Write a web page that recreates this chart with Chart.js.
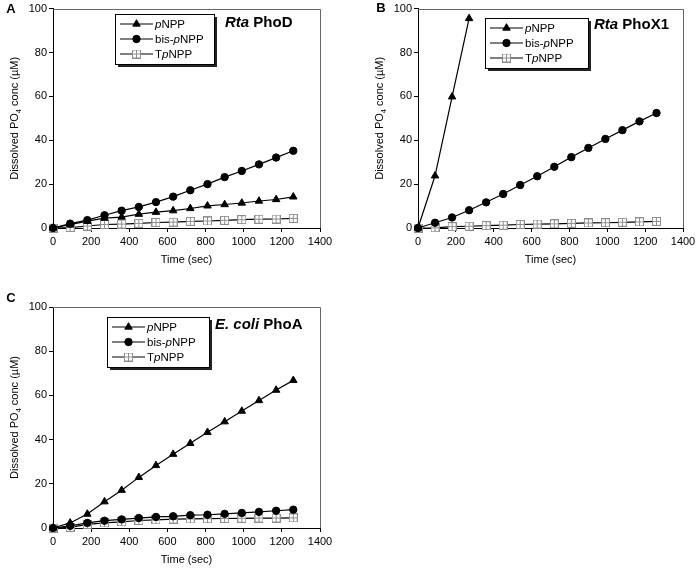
<!DOCTYPE html>
<html>
<head>
<meta charset="utf-8">
<script src="https://cdn.jsdelivr.net/npm/chart.js@4/dist/chart.umd.min.js"></script>
<style>
  html, body { margin: 0; padding: 0; background: #fff; }
  #wrap { position: relative; width: 700px; height: 572px; overflow: hidden; }
  #wrap canvas { position: absolute; }
</style>
</head>
<body>
<div id="wrap">
  <canvas id="panel-a" width="350" height="272" style="left:0;top:0"></canvas>
  <canvas id="panel-b" width="350" height="272" style="left:350px;top:0"></canvas>
  <canvas id="panel-c" width="350" height="282" style="left:0;top:290px"></canvas>
</div>
<script>
  /* Data */
  const TIME_SEC = [0, 90, 180, 270, 360, 450, 540, 630, 720, 810, 900, 990, 1080, 1170, 1260];
  const X_TICKS = [0, 200, 400, 600, 800, 1000, 1200, 1400];
  const Y_TICKS = [0, 20, 40, 60, 80, 100];

  // A: Rta PhoD
  const A_PNPP = [0, 1.5, 3.1, 4.5, 5.0, 6.3, 7.2, 7.9, 8.9, 10.1, 10.7, 11.4, 12.3, 13.0, 14.2];
  const A_BIS = [0, 2.0, 3.6, 5.8, 7.9, 9.6, 11.8, 14.3, 17.2, 20.0, 23.2, 26.0, 29.0, 32.1, 35.2];
  const A_TPNPP = [0, 0.2, 0.9, 1.6, 1.8, 2.1, 2.5, 2.7, 3.0, 3.2, 3.5, 3.8, 4.0, 4.1, 4.4];

  // B: Rta PhoX1 (pNPP only measured for the first four times)
  const B_PNPP_TIME = [0, 90, 180, 270];
  const B_PNPP = [0, 23.8, 59.8, 95.5];
  const B_BIS = [0, 2.4, 4.8, 8.1, 11.7, 15.5, 19.6, 23.6, 27.9, 32.3, 36.5, 40.6, 44.6, 48.6, 52.4];
  const B_TPNPP = [0, 0.1, 0.6, 0.8, 1.1, 1.3, 1.6, 1.8, 1.9, 2.1, 2.3, 2.4, 2.6, 2.8, 3.0];

  // C: E. coli PhoA
  const C_PNPP = [0, 2.3, 6.3, 11.9, 17.1, 22.9, 28.3, 33.4, 38.3, 43.3, 48.1, 52.9, 57.7, 62.4, 66.8];
  const C_BIS = [0, 1.0, 2.3, 3.3, 3.9, 4.5, 5.0, 5.3, 5.8, 6.0, 6.4, 6.8, 7.3, 7.8, 8.3];
  const C_TPNPP = [0, 0.3, 1.6, 2.3, 2.8, 3.4, 3.7, 4.0, 4.1, 4.2, 4.3, 4.4, 4.5, 4.5, 4.6];

  const FONT = '"Liberation Sans", Arial, Helvetica, sans-serif';

  /* grey square with a cross, like the TpNPP marker */
  function squareMarker() {
    const c = document.createElement('canvas');
    c.width = 9; c.height = 9;
    const g = c.getContext('2d');
    g.fillStyle = '#fff';
    g.fillRect(0, 0, 9, 9);
    g.strokeStyle = '#8e8e8e';
    g.lineWidth = 1;
    g.strokeRect(0.5, 0.5, 8, 8);
    g.beginPath();
    g.moveTo(4.5, 1); g.lineTo(4.5, 8);
    g.moveTo(1, 4.5); g.lineTo(8, 4.5);
    g.stroke();
    return c;
  }
  const SQUARE = squareMarker();

  const SERIES_STYLE = [
    { name: [['p', 'italic'], ['NPP', '']], pointStyle: 'triangle', radius: 4.3 },
    { name: [['bis-', ''], ['p', 'italic'], ['NPP', '']], pointStyle: 'circle', radius: 3.7 },
    { name: [['T', ''], ['p', 'italic'], ['NPP', '']], pointStyle: SQUARE, radius: 4 }
  ];

  function points(xs, ys) {
    return ys.map(function (y, i) { return { x: xs[i], y: y }; });
  }

  function drawRuns(ctx, runs, x, y, size, weight) {
    runs.forEach(function (r) {
      ctx.font = r[1] + ' ' + weight + ' ' + size + 'px ' + FONT;
      ctx.fillText(r[0], x, y);
      x += ctx.measureText(r[0]).width;
    });
    return x;
  }

  /* frame, axis titles, legend box, panel title and letter */
  const decor = {
    id: 'decor',
    afterDraw: function (chart, args, opts) {
      const ctx = chart.ctx;
      const a = chart.chartArea;
      ctx.save();
      ctx.fillStyle = '#000';
      ctx.textBaseline = 'middle';

      // top and right edges of the box
      ctx.strokeStyle = '#666';
      ctx.lineWidth = 1;
      ctx.beginPath();
      ctx.moveTo(Math.round(a.left), Math.round(a.top) + 0.5);
      ctx.lineTo(Math.round(a.right) + 0.5, Math.round(a.top) + 0.5);
      ctx.lineTo(Math.round(a.right) + 0.5, Math.round(a.bottom));
      ctx.stroke();

      // x title
      ctx.textAlign = 'center';
      ctx.font = '11px ' + FONT;
      ctx.fillText('Time (sec)', (a.left + a.right) / 2, a.bottom + 32);

      // y title with subscript
      ctx.save();
      ctx.translate(a.left - 38, (a.top + a.bottom) / 2);
      ctx.rotate(-Math.PI / 2);
      ctx.textAlign = 'left';
      ctx.font = '11px ' + FONT;
      const p1 = 'Dissolved PO', p2 = ' conc (\u00b5M)';
      const w1 = ctx.measureText(p1).width, w3 = ctx.measureText(p2).width;
      ctx.font = '7.5px ' + FONT;
      const w2 = ctx.measureText('4').width;
      const tx = -(w1 + w2 + w3) / 2;
      ctx.font = '11px ' + FONT;
      ctx.fillText(p1, tx, 0);
      ctx.font = '7.5px ' + FONT;
      ctx.fillText('4', tx + w1, 4);
      ctx.font = '11px ' + FONT;
      ctx.fillText(p2, tx + w1 + w2, 0);
      ctx.restore();

      // panel letter
      ctx.textAlign = 'center';
      ctx.font = 'bold 13px ' + FONT;
      ctx.fillText(opts.letter, opts.letterX, opts.letterY);

      // panel title
      ctx.textAlign = 'left';
      drawRuns(ctx, opts.title, opts.titleX, opts.titleY, 15, 'bold');

      // legend box with drop shadow
      const L = opts.legend;
      ctx.fillStyle = '#222';
      ctx.fillRect(L.x + 3, L.y + 3, L.w, L.h);
      ctx.fillStyle = '#fff';
      ctx.fillRect(L.x, L.y, L.w, L.h);
      ctx.strokeStyle = '#000';
      ctx.lineWidth = 1;
      ctx.strokeRect(L.x + 0.5, L.y + 0.5, L.w, L.h);
      const cy = L.y + L.h / 2;
      chart.data.datasets.forEach(function (ds, i) {
        const y = cy + (i - 1) * 15;
        ctx.strokeStyle = '#000';
        ctx.lineWidth = 1.2;
        ctx.beginPath();
        ctx.moveTo(L.x + 5, y);
        ctx.lineTo(L.x + 38, y);
        ctx.stroke();
        ctx.fillStyle = '#000';
        ctx.lineWidth = 1;
        Chart.helpers.drawPoint(ctx, {
          pointStyle: ds.pointStyle, radius: ds.pointRadius, rotation: 0, borderWidth: 1
        }, L.x + 21.5, y);
        ctx.fillStyle = '#000';
        drawRuns(ctx, SERIES_STYLE[i].name, L.x + 40, y + 0.5, 11.5, '');
      });
      ctx.restore();
    }
  };

  function makePanel(id, cfg) {
    const canvas = document.getElementById(id);
    const datasets = cfg.series.map(function (s, i) {
      const st = SERIES_STYLE[i];
      return {
        label: st.name.map(function (r) { return r[0]; }).join(''),
        data: s,
        borderColor: '#000',
        borderWidth: 1.2,
        backgroundColor: '#000',
        pointStyle: st.pointStyle,
        pointRadius: st.radius,
        pointBorderColor: '#000',
        pointBackgroundColor: '#000',
        pointBorderWidth: 1,
        tension: 0,
        clip: false
      };
    });
    // draw squares first so black marks sit on top
    datasets[2].order = 3; datasets[0].order = 2; datasets[1].order = 1;

    const tickFont = { family: FONT, size: 11 };
    const plain = function (v) { return String(v); };

    new Chart(canvas, {
      type: 'line',
      data: { datasets: datasets },
      options: {
        responsive: false,
        animation: false,
        layout: { padding: { left: 0, right: canvas.width - cfg.area.r, top: cfg.area.t, bottom: 0 } },
        plugins: {
          legend: { display: false },
          tooltip: { enabled: false },
          decor: cfg.decor
        },
        scales: {
          x: {
            type: 'linear', min: 0, max: 1400,
            afterBuildTicks: function (s) { s.ticks = X_TICKS.map(function (v) { return { value: v }; }); },
            afterFit: function (s) { s.height = canvas.height - cfg.area.b; },
            border: { display: true, color: '#000', width: 1 },
            grid: { drawOnChartArea: false, drawTicks: true, tickLength: 4, color: '#000' },
            ticks: { color: '#000', padding: 3, maxRotation: 0, font: tickFont, callback: plain }
          },
          y: {
            type: 'linear', min: 0, max: 100,
            afterBuildTicks: function (s) { s.ticks = Y_TICKS.map(function (v) { return { value: v }; }); },
            afterFit: function (s) { s.width = cfg.area.l; },
            border: { display: true, color: '#000', width: 1 },
            grid: { drawOnChartArea: false, drawTicks: true, tickLength: 4, color: '#000' },
            ticks: { color: '#000', padding: 2, font: tickFont, callback: plain }
          }
        }
      },
      plugins: [decor]
    });
  }

  makePanel('panel-a', {
    area: { l: 53, r: 320, t: 6, b: 228 },
    series: [points(TIME_SEC, A_PNPP), points(TIME_SEC, A_BIS), points(TIME_SEC, A_TPNPP)],
    decor: {
      letter: 'A', letterX: 11, letterY: 9,
      title: [['Rta', 'italic'], [' PhoD', '']], titleX: 225, titleY: 23,
      legend: { x: 115, y: 14, w: 99, h: 50 }
    }
  });

  makePanel('panel-b', {
    area: { l: 68, r: 333, t: 6, b: 228 },
    series: [points(B_PNPP_TIME, B_PNPP), points(TIME_SEC, B_BIS), points(TIME_SEC, B_TPNPP)],
    decor: {
      letter: 'B', letterX: 31, letterY: 8,
      title: [['Rta', 'italic'], [' PhoX1', '']], titleX: 244, titleY: 25,
      legend: { x: 135, y: 18, w: 103, h: 50 }
    }
  });

  makePanel('panel-c', {
    area: { l: 53, r: 320, t: 17, b: 238 },
    series: [points(TIME_SEC, C_PNPP), points(TIME_SEC, C_BIS), points(TIME_SEC, C_TPNPP)],
    decor: {
      letter: 'C', letterX: 11, letterY: 8,
      title: [['E. coli', 'italic'], [' PhoA', '']], titleX: 215, titleY: 35,
      legend: { x: 107, y: 27, w: 102, h: 50 }
    }
  });
</script>
</body>
</html>
